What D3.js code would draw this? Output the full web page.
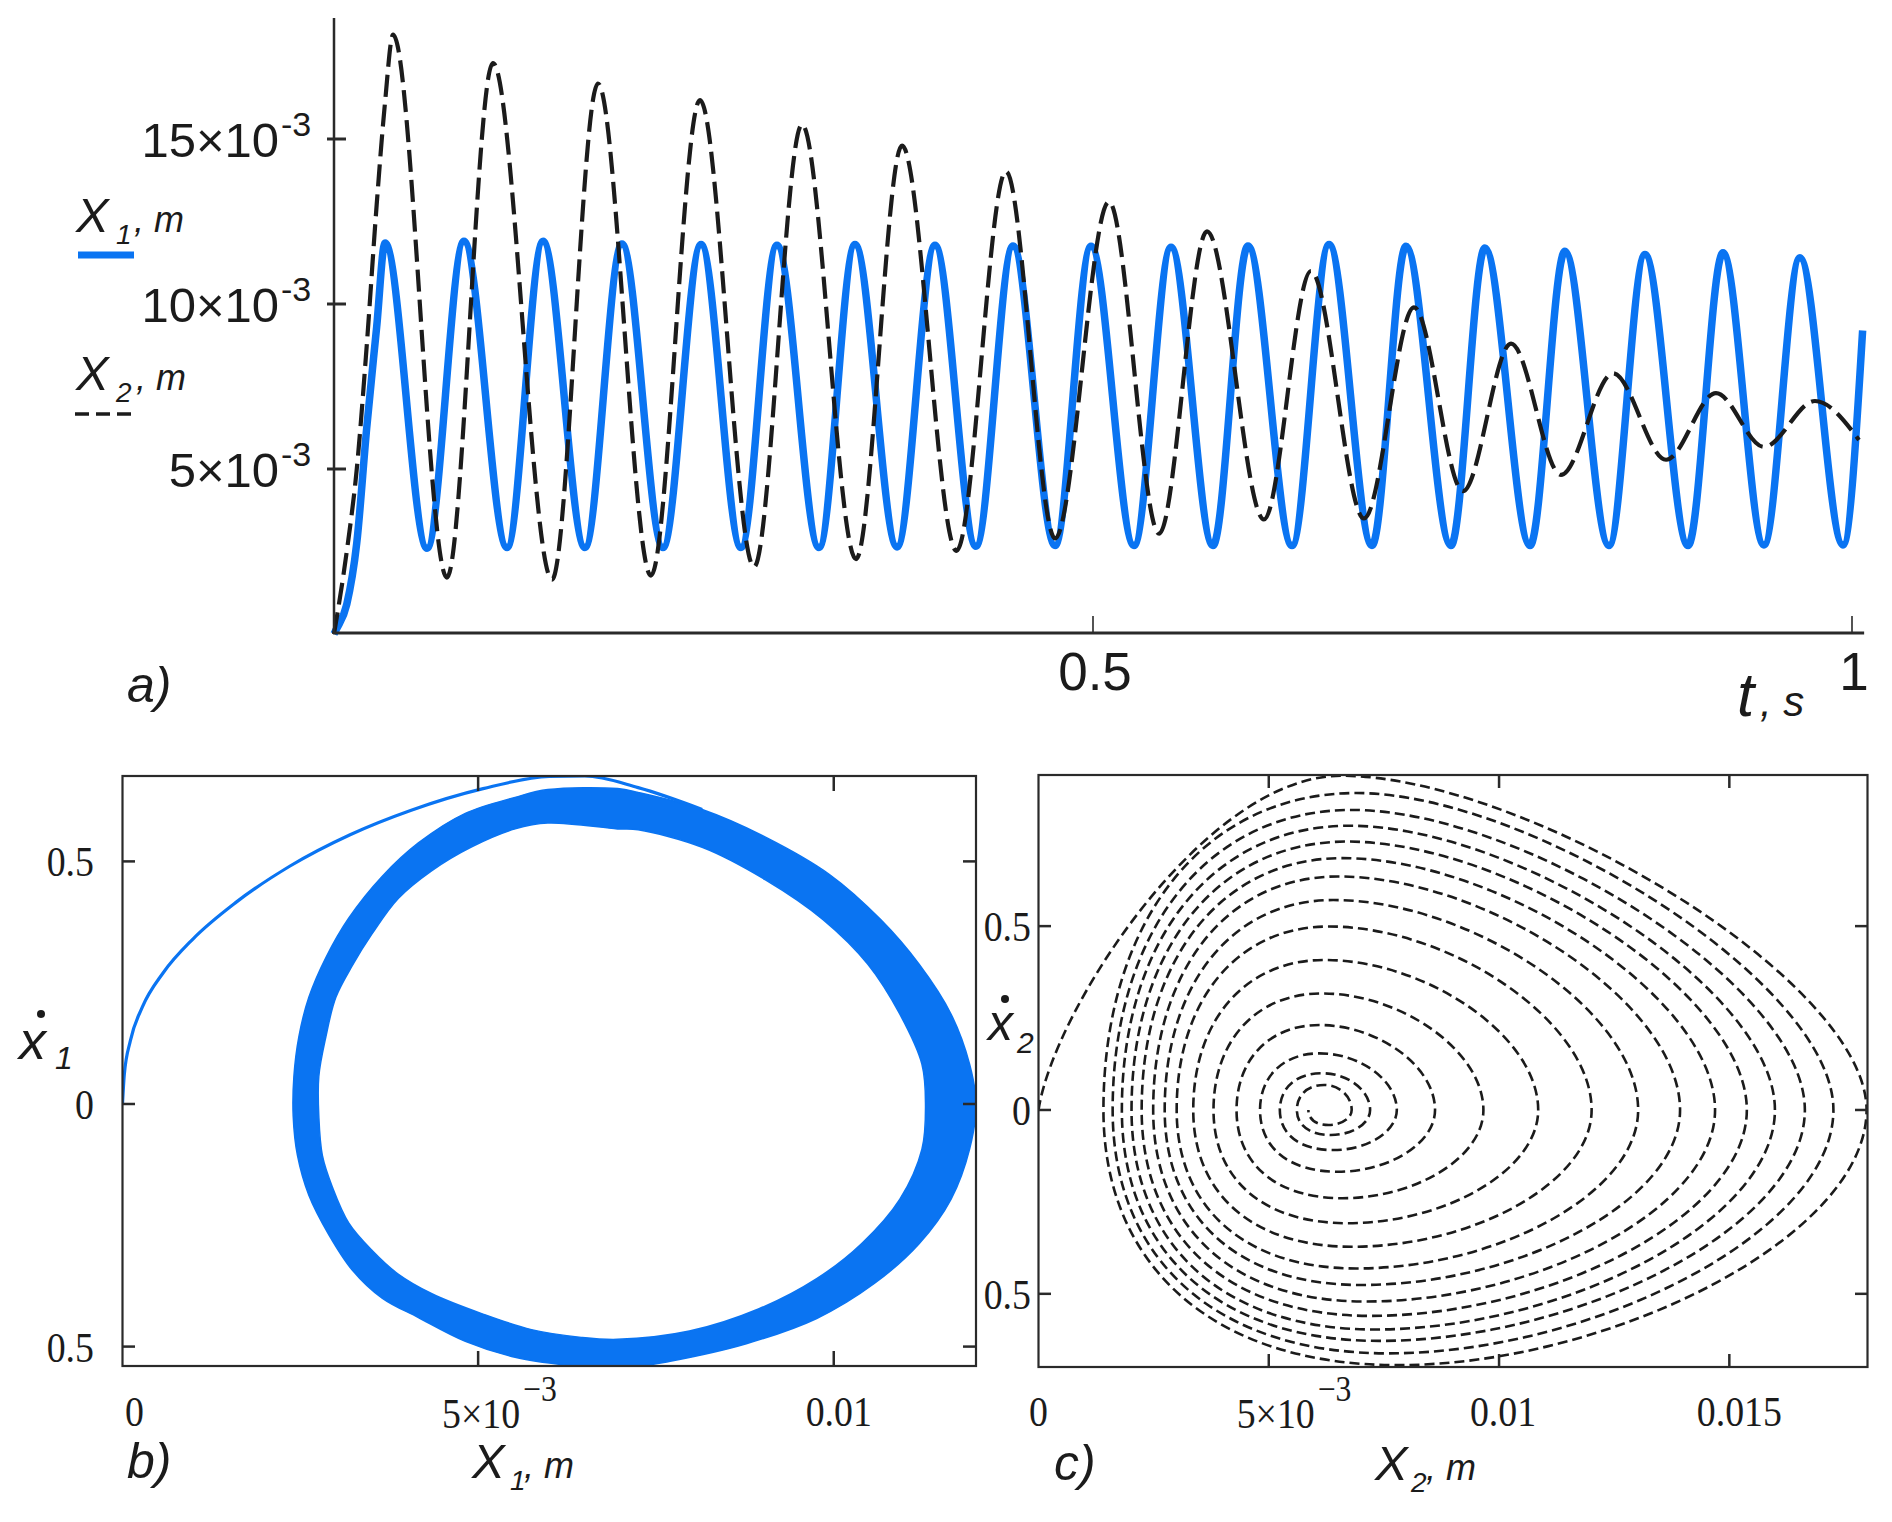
<!DOCTYPE html>
<html><head><meta charset="utf-8">
<script src="https://cdn.jsdelivr.net/npm/d3@7"></script>
<style>
body{margin:0;background:#fff;}
svg{display:block;}
</style></head><body>
<svg id="chart" width="1892" height="1522"></svg>
<script>
// ================= DATA =================
// Panel a: time series, t in s, displacement in 1e-3 m
const x1Start_t = [0, 0.0018, 0.0084, 0.015, 0.0215, 0.0281];
const x1Start_v = [0, 0.16, 0.9, 2.76, 6.22, 9.3];
const x1Peak_t = [0.0336,0.0856,0.1377,0.1897,0.2418,0.2918,0.3432,0.3959,0.4473,0.4987,0.5514,0.6021,0.6555,0.7062,0.7582,0.8109,0.8636,0.9150,0.9657];
const x1Peak_v = [11.85,11.9,11.9,11.82,11.8,11.78,11.8,11.78,11.76,11.75,11.72,11.76,11.8,11.75,11.7,11.6,11.5,11.55,11.4];
const x1Trough_t = [0.0613,0.1140,0.1653,0.2167,0.2681,0.3195,0.3709,0.4229,0.4750,0.5270,0.5790,0.6311,0.6838,0.7358,0.7879,0.8399,0.8920,0.9420,0.9941];
const x1Trough_v = [2.6,2.62,2.62,2.62,2.62,2.62,2.64,2.66,2.68,2.68,2.68,2.68,2.68,2.68,2.68,2.68,2.68,2.7,2.7];
const x1End = [1.007, 9.2];

const x2Start_t = [0, 0.0084, 0.015, 0.0215, 0.0281, 0.0336];
const x2Start_v = [0, 2.5, 5.0, 8.7, 13.0, 16.1];
const x2Peak_t = [0.0389,0.1047,0.1739,0.2411,0.3083,0.3742,0.4427,0.5105,0.5751,0.6436,0.7115,0.7754,0.8426,0.9104,0.9756];
const x2Peak_v = [18.16,17.3,16.68,16.18,15.44,14.8,14.02,13.1,12.2,11.0,9.9,8.8,7.9,7.3,7.06];
const x2Trough_t = [0.0744,0.1436,0.2088,0.2767,0.3439,0.4101,0.4750,0.5435,0.6126,0.6785,0.7437,0.8083,0.8775,0.9420];
const x2Trough_v = [1.71,1.65,1.77,2.03,2.27,2.52,2.9,3.04,3.47,3.5,4.33,4.82,5.28,5.67];
const x2End = [1.0046, 5.88];

const aYTicks = [5, 10, 15];
const aYTickMain = ["5×10", "10×10", "15×10"];
const aYTickSup = "-3";
const aXTicks = [0.5, 1];
const aXTickLabels = ["0.5", "1"];

// Panel b: phase portrait of X1 (x in 1e-3 m, velocity in m/s)
const b_arc_x = [0,0.025,0.11,0.28,0.57,0.99,1.59,2.35,3.2,4.05,5.07,6.0,6.5,7.25,8.15];
const b_arc_v = [0,0.06,0.13,0.20,0.27,0.34,0.415,0.49,0.555,0.605,0.65,0.675,0.676,0.652,0.607];
const b_outer_x = [6.96,5.98,5.52,4.82,4.16,3.65,3.18,2.86,2.62,2.48,2.41,2.40,2.46,2.62,2.90,3.23,3.65,4.16,4.82,5.52,6.22,6.96,7.70,8.77,9.76,10.57,11.20,11.65,11.91,12.0,11.91,11.65,11.20,10.66,9.94,9.04,8.15,7.25];
const b_outer_v = [0.650,0.648,0.632,0.599,0.538,0.469,0.383,0.302,0.220,0.139,0.057,-0.025,-0.106,-0.188,-0.269,-0.342,-0.400,-0.440,-0.489,-0.522,-0.538,-0.546,-0.530,-0.494,-0.442,-0.370,-0.288,-0.196,-0.093,0,0.082,0.185,0.288,0.380,0.473,0.550,0.607,0.642];
const b_inner_x = [6.96,5.98,5.52,4.91,4.35,3.88,3.51,3.23,3.00,2.86,2.76,2.76,2.81,2.95,3.18,3.51,3.88,4.35,5.05,5.75,6.45,6.96,7.97,8.95,9.76,10.39,10.93,11.24,11.29,11.24,10.93,10.48,9.85,9.04,8.15,7.25];
const b_inner_v = [0.567,0.579,0.567,0.530,0.481,0.424,0.351,0.285,0.220,0.139,0.057,-0.025,-0.106,-0.171,-0.245,-0.302,-0.351,-0.391,-0.432,-0.465,-0.481,-0.485,-0.468,-0.422,-0.360,-0.288,-0.196,-0.093,0,0.082,0.185,0.288,0.380,0.462,0.529,0.565];
const bXTicks = [0, 5, 10];
const bXTickMain = ["0", "5×10", "0.01"];
const bYTicks = [0.5, 0, -0.5];
const bYTickLabels = ["0.5", "0", "0.5"];

// Panel c: phase portrait of X2, spiral extrema per revolution (x in 1e-3 m)
const c_top_v    = [0.909,0.862,0.816,0.773,0.730,0.685,0.635,0.571,0.499,0.408,0.317,0.231,0.154,0.100,0.068];
const c_top_x    = [6.57,6.9,6.8,6.75,6.7,6.6,6.5,6.4,6.3,6.2,6.15,6.1,6.1,6.15,6.2];
const c_right_x  = [17.98,17.26,16.64,15.99,15.38,14.69,13.93,13.02,12.01,10.85,9.66,8.61,7.78,7.20,6.80];
const c_bottom_v = [-0.694,-0.662,-0.628,-0.597,-0.560,-0.521,-0.476,-0.431,-0.372,-0.308,-0.240,-0.168,-0.109,-0.068,-0.041];
const c_bottom_x = [7.8,7.6,7.4,7.3,7.2,7.1,7.0,6.9,6.8,6.7,6.6,6.5,6.4,6.35,6.3];
const c_left_x   = [1.41,1.61,1.81,2.02,2.24,2.49,2.74,3.00,3.36,3.80,4.30,4.81,5.24,5.61,5.86];
const cXTicks = [0, 5, 10, 15];
const cXTickMain = ["0", "5×10", "0.01", "0.015"];
const cYTicks = [0.5, 0, -0.5];
const cYTickLabels = ["0.5", "0", "0.5"];

// ================= DRAWING =================
const SANS = "'Liberation Sans', Arial, sans-serif";
const SERIF = "'Liberation Serif', 'Times New Roman', serif";
const BLUE = "#0a74f2";
const INK = "#1b1b1b";
const AX = "#2a2a2a";
const svg = d3.select("#chart");
svg.append("rect").attr("width",1892).attr("height",1522).attr("fill","#fff");

function txt(x,y,s,size,opts={}){
  const t = svg.append("text").attr("x",x).attr("y",y).text(s)
    .attr("font-family",opts.family||SANS).attr("font-size",size)
    .attr("fill",opts.fill||INK);
  if(opts.italic) t.attr("font-style","italic");
  if(opts.anchor) t.attr("text-anchor",opts.anchor);
  if(opts.sx){ t.attr("transform",`translate(${x},${y}) scale(${opts.sx},1) translate(${-x},${-y})`); }
  return t;
}

// ---------- Panel a ----------
const xa = d3.scaleLinear().domain([0,1]).range([334,1852]);
const ya = d3.scaleLinear().domain([0,15]).range([634,139]);

function buildSeries(st,sv,pt,pv,tt,tv,end){
  const s = st.map((t,i)=>[t,sv[i]]);
  const e = pt.map((t,i)=>[t,pv[i]]).concat(tt.map((t,i)=>[t,tv[i]])).sort((a,b)=>a[0]-b[0]);
  return s.concat(e,[end]);
}
const s1 = buildSeries(x1Start_t,x1Start_v,x1Peak_t,x1Peak_v,x1Trough_t,x1Trough_v,x1End);
const s2 = buildSeries(x2Start_t,x2Start_v,x2Peak_t,x2Peak_v,x2Trough_t,x2Trough_v,x2End);
const lineA = d3.line().x(d=>xa(d[0])).y(d=>ya(d[1])).curve(d3.curveMonotoneX);

svg.append("path").attr("d",lineA(s1)).attr("fill","none").attr("stroke",BLUE)
  .attr("stroke-width",7.5).attr("stroke-linejoin","round");
svg.append("path").attr("d",lineA(s2)).attr("fill","none").attr("stroke",INK)
  .attr("stroke-width",4.2).attr("stroke-dasharray","22,8");

// axes a
svg.append("line").attr("x1",xa(0)).attr("x2",xa(0)).attr("y1",18).attr("y2",ya(0))
  .attr("stroke",AX).attr("stroke-width",2.5);
svg.append("line").attr("x1",xa(0)-1).attr("x2",xa(1.008)).attr("y1",ya(0)-1).attr("y2",ya(0)-1)
  .attr("stroke",AX).attr("stroke-width",3);
aYTicks.forEach((v,i)=>{
  svg.append("line").attr("x1",xa(0)-7).attr("x2",xa(0)+12).attr("y1",ya(v)).attr("y2",ya(v))
    .attr("stroke",AX).attr("stroke-width",3);
  txt(279, ya(v)+18, aYTickMain[i], 49, {anchor:"end"});
  txt(281, ya(v)-3, aYTickSup, 34);
});
aXTicks.forEach((v,i)=>{
  svg.append("line").attr("x1",xa(v)).attr("x2",xa(v)).attr("y1",ya(0)-18).attr("y2",ya(0))
    .attr("stroke",AX).attr("stroke-width",1.6);
  txt(xa(v)+2, 690, aXTickLabels[i], 53, {anchor:"middle"});
});
txt(1737, 716, "t", 62, {italic:true});
txt(1760, 716, ", s", 42, {italic:true});
txt(127, 702, "a)", 50, {italic:true});

// legend
txt(76, 232, "X", 49, {italic:true});
txt(116, 244, "1", 28, {italic:true});
txt(134, 232, ", m", 36, {italic:true});
svg.append("line").attr("x1",78).attr("x2",134).attr("y1",255).attr("y2",255)
  .attr("stroke",BLUE).attr("stroke-width",7);
txt(76, 390, "X", 49, {italic:true});
txt(116, 402, "2", 28, {italic:true});
txt(136, 390, ", m", 36, {italic:true});
svg.append("line").attr("x1",75).attr("x2",131).attr("y1",414).attr("y2",414)
  .attr("stroke",INK).attr("stroke-width",3.5).attr("stroke-dasharray","14,7");

// ---------- Panel b ----------
const xb = d3.scaleLinear().domain([0,12]).range([122.5,976]);
const yb = d3.scaleLinear().domain([-0.540,0.676]).range([1366,776]);
svg.append("clipPath").attr("id","clipb").append("rect")
  .attr("x",122.5).attr("y",776).attr("width",853.5).attr("height",590);
const gb = svg.append("g").attr("clip-path","url(#clipb)");
const closedB = d3.line().x(d=>xb(d[0])).y(d=>yb(d[1])).curve(d3.curveCatmullRomClosed);
const outerPts = b_outer_x.map((x,i)=>[x,b_outer_v[i]]);
const innerPts = b_inner_x.map((x,i)=>[x,b_inner_v[i]]);
gb.append("path").attr("d",closedB(outerPts)+closedB(innerPts))
  .attr("fill",BLUE).attr("fill-rule","evenodd").attr("stroke",BLUE).attr("stroke-width",1.5);
const openB = d3.line().x(d=>xb(d[0])).y(d=>yb(d[1])).curve(d3.curveMonotoneX);
gb.append("path").attr("d",openB(b_arc_x.map((x,i)=>[x,b_arc_v[i]])))
  .attr("fill","none").attr("stroke",BLUE).attr("stroke-width",3.2);

function frame(x0,x1,y0,y1){
  svg.append("rect").attr("x",x0).attr("y",y0).attr("width",x1-x0).attr("height",y1-y0)
    .attr("fill","none").attr("stroke",AX).attr("stroke-width",2.2);
}
frame(122.5,976,776,1366);
bYTicks.forEach((v,i)=>{
  svg.append("line").attr("x1",122.5).attr("x2",135).attr("y1",yb(v)).attr("y2",yb(v)).attr("stroke",AX).attr("stroke-width",2.5);
  svg.append("line").attr("x1",963).attr("x2",976).attr("y1",yb(v)).attr("y2",yb(v)).attr("stroke",AX).attr("stroke-width",2.5);
  txt(94, yb(v)+15, bYTickLabels[i], 43, {family:SERIF, anchor:"end", sx:0.88});
});
bXTicks.forEach((v,i)=>{
  if(v>0){
    svg.append("line").attr("x1",xb(v)).attr("x2",xb(v)).attr("y1",776).attr("y2",791).attr("stroke",AX).attr("stroke-width",2.5);
    svg.append("line").attr("x1",xb(v)).attr("x2",xb(v)).attr("y1",1351).attr("y2",1366).attr("stroke",AX).attr("stroke-width",2.5);
  }
  if(bXTickMain[i]==="5×10"){
    txt(xb(v)+42, 1428, bXTickMain[i], 43, {family:SERIF, anchor:"end", sx:0.88});
    txt(xb(v)+45, 1401, "−3", 36, {family:SERIF, sx:0.88});
  } else {
    txt(xb(v)+(v===0?12:5), 1426, bXTickMain[i], 43, {family:SERIF, anchor:"middle", sx:0.88});
  }
});
txt(472, 1478, "X", 49, {italic:true});
txt(510, 1490, "1", 28, {italic:true});
txt(524, 1478, ", m", 36, {italic:true});
txt(19, 1059, "x", 54, {italic:true});
svg.append("circle").attr("cx",41).attr("cy",1014).attr("r",4).attr("fill",INK);
txt(55, 1069, "1", 32, {italic:true});
txt(127, 1478, "b)", 50, {italic:true});

// ---------- Panel c ----------
const xc = d3.scaleLinear().domain([0,18]).range([1038.5,1867.5]);
const yc = d3.scaleLinear().domain([-0.699,0.911]).range([1367,775]);
svg.append("clipPath").attr("id","clipc").append("rect")
  .attr("x",1038.5).attr("y",775).attr("width",829).attr("height",592);
const p = d3.path();
p.moveTo(xc(0), yc(0));
for(let k=0;k<c_top_v.length;k++){
  const L0 = k===0 ? 0 : c_left_x[k-1];
  const xT=c_top_x[k], T=c_top_v[k], R=c_right_x[k], xB=c_bottom_x[k], B=c_bottom_v[k], L=c_left_x[k];
  const f = k/(c_top_v.length-1);
  if(k===0){
    p.bezierCurveTo(xc(L0+0.05*(xT-L0)), yc(0.3*T), xc(xT-0.45*(xT-L0)), yc(T), xc(xT), yc(T));
  } else {
    p.bezierCurveTo(xc(L0), yc(0.6*T), xc(xT-0.6*(xT-L0)), yc(T), xc(xT), yc(T));
  }
  const kx1=0.35+0.2*f, ky1=0.39+0.16*f;
  p.bezierCurveTo(xc(xT+kx1*(R-xT)), yc(T), xc(R), yc(ky1*T), xc(R), yc(0));
  const ky2=0.5+0.05*f, kx2=0.45+0.1*f;
  p.bezierCurveTo(xc(R), yc(ky2*B), xc(xB+kx2*(R-xB)), yc(B), xc(xB), yc(B));
  p.bezierCurveTo(xc(xB-0.62*(xB-L)), yc(B), xc(L), yc(0.62*B), xc(L), yc(0));
}
svg.append("g").attr("clip-path","url(#clipc)").append("path").attr("d",p.toString())
  .attr("fill","none").attr("stroke",INK).attr("stroke-width",2.6).attr("stroke-dasharray","10,5");
frame(1038.5,1867.5,775,1367);
cYTicks.forEach((v,i)=>{
  svg.append("line").attr("x1",1038.5).attr("x2",1051).attr("y1",yc(v)).attr("y2",yc(v)).attr("stroke",AX).attr("stroke-width",2.5);
  svg.append("line").attr("x1",1855).attr("x2",1867.5).attr("y1",yc(v)).attr("y2",yc(v)).attr("stroke",AX).attr("stroke-width",2.5);
  txt(1031, yc(v)+15, cYTickLabels[i], 43, {family:SERIF, anchor:"end", sx:0.88});
});
cXTicks.forEach((v,i)=>{
  if(v>0){
    svg.append("line").attr("x1",xc(v)).attr("x2",xc(v)).attr("y1",775).attr("y2",788).attr("stroke",AX).attr("stroke-width",2.5);
    svg.append("line").attr("x1",xc(v)).attr("x2",xc(v)).attr("y1",1354).attr("y2",1367).attr("stroke",AX).attr("stroke-width",2.5);
  }
  if(cXTickMain[i]==="5×10"){
    txt(xc(v)+46, 1428, cXTickMain[i], 43, {family:SERIF, anchor:"end", sx:0.88});
    txt(xc(v)+49, 1401, "−3", 36, {family:SERIF, sx:0.88});
  } else {
    txt(xc(v)+(v===0?0:(v===15?10:4)), 1426, cXTickMain[i], 43, {family:SERIF, anchor:"middle", sx:0.88});
  }
});
txt(1375, 1480, "X", 49, {italic:true});
txt(1411, 1492, "2", 28, {italic:true});
txt(1426, 1480, ", m", 36, {italic:true});
txt(988, 1040, "x", 50, {italic:true});
svg.append("circle").attr("cx",1005).attr("cy",999).attr("r",4).attr("fill",INK);
txt(1017, 1053, "2", 30, {italic:true});
txt(1054, 1480, "c)", 50, {italic:true});
</script>
</body></html>
